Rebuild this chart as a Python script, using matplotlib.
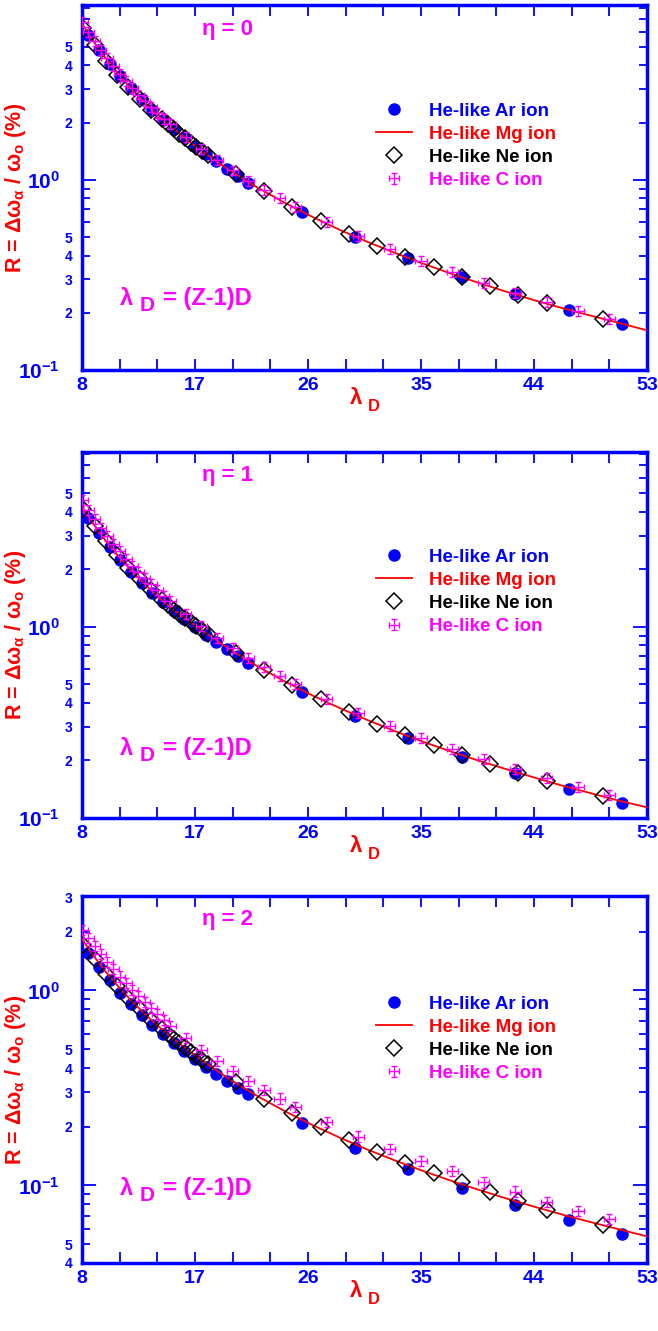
import matplotlib
matplotlib.use("Agg")
import matplotlib.pyplot as plt
import numpy as np
from matplotlib.ticker import FixedLocator, LogLocator, FuncFormatter
from matplotlib.container import ErrorbarContainer
from matplotlib.legend_handler import HandlerErrorbar

plt.rcParams['font.family'] = ['Liberation Sans', 'DejaVu Sans']
plt.rcParams['font.weight'] = 'bold'
plt.rcParams['axes.labelweight'] = 'bold'
plt.rcParams['mathtext.fontset'] = 'custom'
plt.rcParams['mathtext.rm'] = 'Liberation Sans:bold'
plt.rcParams['mathtext.it'] = 'Liberation Sans:bold'
plt.rcParams['mathtext.bf'] = 'Liberation Sans:bold'
plt.rcParams['mathtext.sf'] = 'Liberation Sans:bold'
plt.rcParams['mathtext.default'] = 'rm'

# lambda_D = (Z-1) D
zm1_ar, zm1_mg, zm1_ne, zm1_c = 17, 11, 9, 5

d_ar = [0.5, 0.55, 0.6, 0.65, 0.7, 0.75, 0.8, 0.85, 0.9, 0.95, 1.0, 1.05, 1.1, 1.15, 1.2,
        1.25, 1.5, 1.75, 2.0, 2.25, 2.5, 2.75, 3.0]
d_mg = [0.7, 0.8, 0.9, 1.0, 1.1, 1.2, 1.3, 1.4, 1.5, 1.6,
        1.8, 2.0, 2.2, 2.4, 2.6, 2.8, 3.0, 3.2, 3.4, 3.6, 3.8, 4.0, 4.2, 4.4, 4.6, 4.8, 5.0]
d_ne = [0.9, 1.0, 1.1, 1.2, 1.3, 1.4, 1.5, 1.6, 1.65, 1.7, 1.75, 1.8, 1.85, 1.9, 1.95, 2.0,
        2.25, 2.5, 2.75, 3.0, 3.25, 3.5, 3.75, 4.0, 4.25, 4.5, 4.75, 5.0, 5.5]
d_c = [1.6, 1.7, 1.8, 1.9, 2.0, 2.1, 2.2, 2.3, 2.4, 2.5, 2.6, 2.7, 2.8, 2.9, 3.0,
       3.25, 3.5, 3.75, 4.0, 4.25, 4.5, 4.75, 5.0,
       5.5, 6.0, 6.5, 7.0, 7.5, 8.0, 8.5, 9.0, 9.5, 10.0]

# R (%) , eta = 0
ar_eta0 = [5.75, 4.84, 4.09, 3.50, 3.03, 2.65, 2.33, 2.07, 1.85, 1.67, 1.51, 1.37, 1.25, 1.145, 1.05,
           0.965, 0.68, 0.503, 0.387, 0.307, 0.25, 0.208, 0.175]
mg_eta0 = [7.11, 5.48, 4.35, 3.54, 2.93, 2.47, 2.11, 1.83, 1.60, 1.41, 1.117, 0.909, 0.754, 0.636,
           0.543, 0.470, 0.411, 0.362, 0.321, 0.287, 0.258, 0.233, 0.212, 0.194, 0.178, 0.163, 0.151]
ne_eta0 = [6.25, 5.10, 4.24, 3.57, 3.06, 2.66, 2.33, 2.09, 1.96, 1.85, 1.75, 1.66, 1.57, 1.49, 1.415,
           1.35, 1.07, 0.87, 0.721, 0.608, 0.52, 0.45, 0.393, 0.346, 0.307, 0.275, 0.247, 0.224, 0.185]
c_eta0 = [6.73, 5.98, 5.35, 4.80, 4.35, 3.95, 3.61, 3.31, 3.04, 2.81, 2.60, 2.42, 2.25, 2.10, 1.96,
          1.68, 1.45, 1.27, 1.12, 0.99, 0.887, 0.80, 0.72,
          0.60, 0.505, 0.432, 0.373, 0.326, 0.287, 0.255, 0.228, 0.205, 0.186]

# eta = 1
ar_eta1 = [3.70, 3.08, 2.61, 2.24, 1.94, 1.70, 1.51, 1.345, 1.21, 1.095, 0.995, 0.91, 0.832, 0.763, 0.703,
           0.65, 0.458, 0.34, 0.262, 0.209, 0.171, 0.142, 0.12]
mg_eta1 = [4.56, 3.53, 2.81, 2.30, 1.91, 1.62, 1.39, 1.21, 1.075, 0.954, 0.76, 0.62, 0.516, 0.436,
           0.374, 0.324, 0.2835, 0.25, 0.2225, 0.1995, 0.18, 0.163, 0.148, 0.1355, 0.124, 0.1145, 0.106]
ne_eta1 = [4.14, 3.38, 2.81, 2.38, 2.04, 1.77, 1.55, 1.375, 1.30, 1.23, 1.17, 1.11, 1.055, 1.005, 0.958,
           0.913, 0.728, 0.594, 0.494, 0.418, 0.358, 0.310, 0.2715, 0.240, 0.213, 0.191, 0.172, 0.156, 0.1297]
c_eta1 = [4.58, 4.07, 3.64, 3.29, 2.98, 2.71, 2.48, 2.27, 2.09, 1.94, 1.795, 1.67, 1.555, 1.455, 1.36,
          1.165, 1.005, 0.875, 0.773, 0.688, 0.616, 0.555, 0.502,
          0.418, 0.353, 0.303, 0.2625, 0.2295, 0.2025, 0.180, 0.1615, 0.1455, 0.132]

# eta = 2
ar_eta2 = [1.56, 1.32, 1.13, 0.975, 0.852, 0.751, 0.668, 0.598, 0.539, 0.489, 0.445, 0.406, 0.372, 0.342, 0.316,
           0.293, 0.208, 0.155, 0.121, 0.097, 0.0795, 0.0664, 0.0564]
mg_eta2 = [1.966, 1.541, 1.244, 1.027, 0.864, 0.737, 0.637, 0.557, 0.491, 0.436, 0.349, 0.2864, 0.2394,
           0.2033, 0.1749, 0.1521, 0.1337, 0.1184, 0.1056, 0.0949, 0.0857, 0.0778, 0.0710, 0.0651,
           0.0599, 0.0552, 0.0512]
ne_eta2 = [1.72, 1.45, 1.22, 1.05, 0.91, 0.80, 0.708, 0.632, 0.598, 0.566, 0.537, 0.51, 0.485, 0.462, 0.44,
           0.42, 0.34, 0.279, 0.234, 0.199, 0.171, 0.149, 0.131, 0.116, 0.1035, 0.0925, 0.083, 0.075, 0.063]
c_eta2 = [2.04, 1.85, 1.685, 1.54, 1.403, 1.283, 1.179, 1.088, 1.007, 0.935, 0.870, 0.812, 0.760, 0.705, 0.66,
          0.568, 0.495, 0.436, 0.386, 0.344, 0.308, 0.279, 0.252,
          0.211, 0.178, 0.154, 0.134, 0.118, 0.1035, 0.093, 0.0825, 0.074, 0.067]

eta_labels = ["η = 0", "η = 1", "η = 2"]
x_ticks = [8, 17, 26, 35, 44, 53]

lam_ar = np.array(d_ar) * zm1_ar
lam_mg = np.array(d_mg) * zm1_mg
lam_ne = np.array(d_ne) * zm1_ne
lam_c = np.array(d_c) * zm1_c

panels = [
    dict(ar=ar_eta0, mg=mg_eta0, ne=ne_eta0, c=c_eta0, ylim=(0.1, 8.3), box=[0.1246, 0.7220, 0.8587, 0.2742],
         leg_y=0.733, eta_y=0.932, lam_y=0.197),
    dict(ar=ar_eta1, mg=mg_eta1, ne=ne_eta1, c=c_eta1, ylim=(0.1, 8.2), box=[0.1246, 0.3854, 0.8587, 0.2750],
         leg_y=0.736, eta_y=0.937, lam_y=0.19),
    dict(ar=ar_eta2, mg=mg_eta2, ne=ne_eta2, c=c_eta2, ylim=(0.04, 3.05), box=[0.1246, 0.0511, 0.8587, 0.2757],
         leg_y=0.729, eta_y=0.935, lam_y=0.204),
]


def minor_label(v, pos):
    m = int(round(v / 10 ** np.floor(np.log10(v) + 1e-9)))
    return str(m) if m in (2, 3, 4, 5) else ''


fig = plt.figure(figsize=(6.58, 13.31), dpi=100)

for i, p in enumerate(panels):
    ax = fig.add_axes(p['box'])
    ax.set_yscale('log')

    ax.plot(lam_ar, p['ar'], 'o', color='blue', ms=8, zorder=2, label='He-like Ar ion')
    ax.plot(lam_mg, p['mg'], '-', color='red', lw=1.3, zorder=3, label='He-like Mg ion')
    ax.plot(lam_ne, p['ne'], 'D', ms=7.8, mfc='none', mec='black', mew=1.1, zorder=4,
            label='He-like Ne ion')
    rc = np.array(p['c'])
    ax.errorbar(lam_c, rc, xerr=0.45, yerr=[rc * 0.058, rc * 0.062], fmt='none', ecolor='magenta',
                elinewidth=1, capsize=2.2, capthick=1, zorder=5, label='He-like C ion')

    ax.set_xlim(8, 53)
    ax.set_ylim(*p['ylim'])
    ax.set_xticks(x_ticks)
    ax.xaxis.set_minor_locator(FixedLocator(np.arange(8, 54, 3)))
    ax.yaxis.set_major_locator(LogLocator(base=10, numticks=10))
    ax.yaxis.set_minor_locator(LogLocator(base=10, subs=np.arange(2, 10), numticks=20))
    ax.yaxis.set_major_formatter(FuncFormatter(lambda v, pos: r'$10^{%d}$' % round(np.log10(v))))
    ax.yaxis.set_minor_formatter(FuncFormatter(minor_label))

    ax.tick_params(which='both', direction='in', top=True, right=True, color='blue',
                   labelcolor='blue', width=1.3)
    ax.tick_params(axis='y', which='major', length=10, pad=16, labelsize=15)
    ax.tick_params(axis='y', which='minor', length=6, pad=7, labelsize=10)
    ax.tick_params(axis='x', which='both', length=8, pad=5, labelsize=14)
    for s in ax.spines.values():
        s.set_color('blue')
        s.set_linewidth(2.5)

    ax.set_ylabel(r'R = $\Delta\omega_{\alpha}$ / $\omega_{o}$ (%)', color='red', fontsize=15.5,
                  fontweight='bold')
    ax.yaxis.set_label_coords(-0.095, 0.5)

    # x label: lambda with lowered D
    ax.text(0.486, -0.077, 'λ', transform=ax.transAxes, color='red', fontsize=16,
            ha='center', va='center')
    ax.text(0.516, -0.099, 'D', transform=ax.transAxes, color='red', fontsize=12,
            ha='center', va='center')

    ax.text(0.257, p['eta_y'], eta_labels[i], transform=ax.transAxes, color='magenta',
            fontsize=16, ha='center', va='center')
    ax.text(0.067, p['lam_y'], 'λ', transform=ax.transAxes, color='magenta', fontsize=17,
            ha='left', va='center')
    ax.text(0.102, p['lam_y'] - 0.02, 'D', transform=ax.transAxes, color='magenta', fontsize=15,
            ha='left', va='center')
    ax.text(0.143, p['lam_y'], '= (Z-1)D', transform=ax.transAxes, color='magenta', fontsize=17,
            ha='left', va='center')

    ax.legend(loc='upper left', bbox_to_anchor=(0.521, p['leg_y']), frameon=False, fontsize=13.5,
              handlelength=1.9, handletextpad=0.9, labelspacing=0.32, borderpad=0,
              borderaxespad=0, numpoints=1, labelcolor=['blue', 'red', 'black', 'magenta'],
              handler_map={ErrorbarContainer: HandlerErrorbar(xerr_size=0.25, yerr_size=0.3)})

fig.savefig('out.png', dpi=100)
